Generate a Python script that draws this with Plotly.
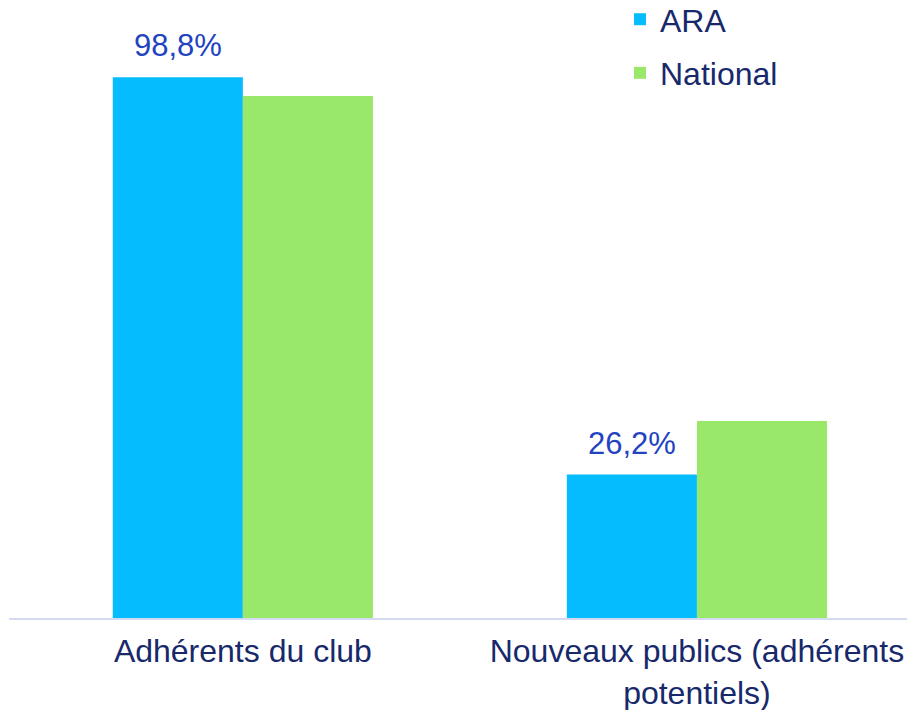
import plotly.graph_objects as go

categories = ["Adhérents du club", "Nouveaux publics (adhérents<br>potentiels)"]
ara_values = [98.8, 26.2]
national_values = [95.4, 36.0]
ara_labels = ["98,8%", "26,2%"]

COLORS = {
    "ara": "#05BCFF",
    "national": "#9AE86A",
    "label": "#2243C0",
    "text": "#17296B",
    "axis": "#D3DAF2",
}
FONT = "Liberation Sans, Arial, sans-serif"

fig = go.Figure()

fig.add_trace(
    go.Bar(
        x=categories,
        y=ara_values,
        name="ARA",
        legendgroup="ara",
        marker=dict(color=COLORS["ara"], line_width=0),
    )
)
fig.add_trace(
    go.Bar(
        x=categories,
        y=national_values,
        name="National",
        legendgroup="national",
        marker=dict(color=COLORS["national"], line_width=0),
    )
)

# value labels above the ARA bars only
for cat, val, lab in zip(categories, ara_values, ara_labels):
    fig.add_annotation(
        x=cat,
        y=val,
        text=lab,
        showarrow=False,
        xshift=-65,
        yshift=12,
        yanchor="bottom",
        font=dict(size=31, color=COLORS["label"], family=FONT),
    )

fig.update_layout(
    width=907,
    height=710,
    barmode="group",
    bargap=0.427,
    bargroupgap=0,
    plot_bgcolor="white",
    paper_bgcolor="white",
    font=dict(family=FONT, size=31, color=COLORS["text"]),
    margin=dict(l=9, r=0, t=16, b=92, autoexpand=False),
    showlegend=True,
    legend=dict(
        x=0.6804,
        y=1.04,
        xanchor="left",
        yanchor="top",
        font=dict(size=32, color=COLORS["text"]),
        tracegroupgap=9,
        bgcolor="rgba(0,0,0,0)",
    ),
)

fig.update_xaxes(
    range=[-0.515, 1.4626],
    showline=True,
    linecolor=COLORS["axis"],
    linewidth=2,
    showgrid=False,
    ticks="",
    ticklabelstandoff=4,
    tickfont=dict(size=32, color=COLORS["text"]),
)
fig.update_yaxes(
    range=[0, 110],
    visible=False,
    showgrid=False,
    zeroline=False,
)

# drop the default 8px page margin so the figure fills the window exactly
fig.write_html(
    "out.html",
    config={"displayModeBar": False},
    post_script="document.body.style.margin = '0';",
)
